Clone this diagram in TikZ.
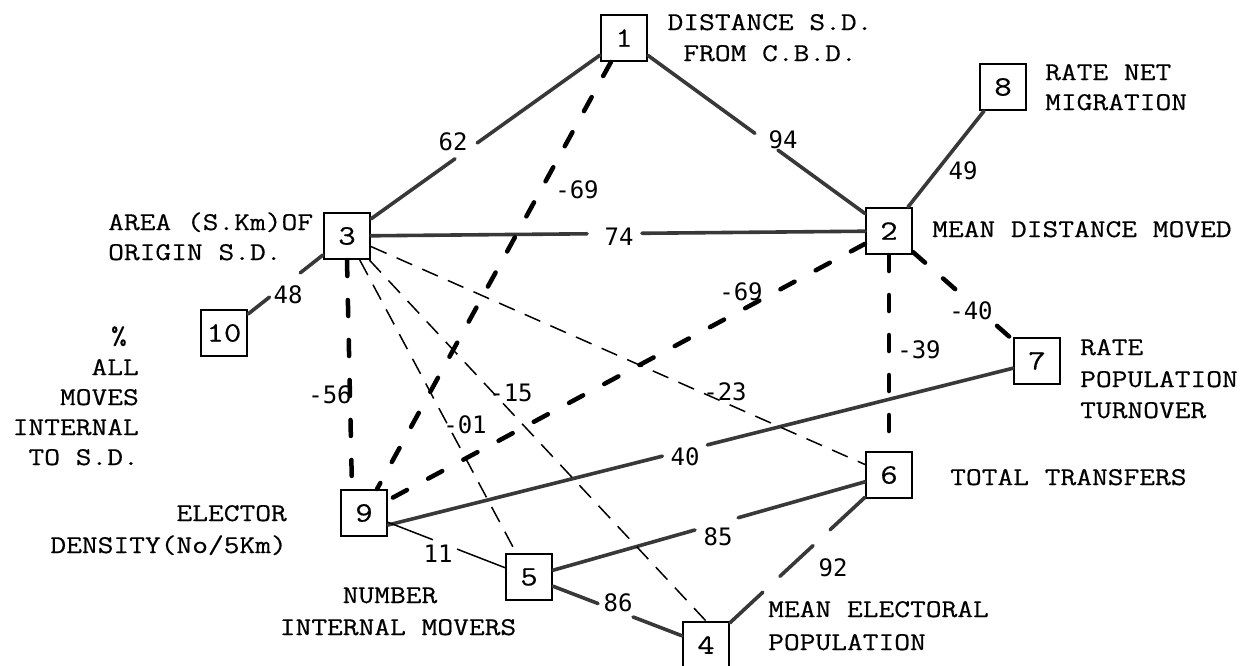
\documentclass[tikz,border=0pt]{standalone}
\usepackage{fontspec}
\usetikzlibrary{calc}
\newfontfamily\twfont{Latin Modern Mono}[FakeStretch=1.2,FakeBold=0.5]
\newfontfamily\numfont{DejaVu Sans Mono}
\begin{document}
\begin{tikzpicture}[x=1pt,y=-1pt,
  box/.style={draw,line width=2pt,minimum width=46pt,minimum height=46pt,inner sep=0pt,fill=white,font=\twfont\fontsize{28}{30}\selectfont},
  txt/.style={inner sep=0pt,font=\twfont\fontsize{25.5}{30}\selectfont},
  num/.style={inner sep=0pt,font=\numfont\fontsize{24}{28}\selectfont},
  strong/.style={line width=3.6pt,black!78,line cap=round},
  sdash/.style={line width=4.5pt,line cap=round,dash pattern=on 16pt off 24pt},
  tdash/.style={line width=1.5pt,dash pattern=on 17pt off 11pt},
  thinline/.style={line width=1.5pt}]
\useasboundingbox (0,0) rectangle (1248,665);

% boxes
\node[box] (n1) at (624,38) {1};
\node[box] (n8) at (1003,87) {8};
\node[box] (n3) at (347,236) {3};
\node[box] (n10) at (224,333) {10};
\node[box] (n2) at (889,231) {2};
\node[box] (n7) at (1037,361) {7};
\node[box] (n6) at (889,475) {6};
\node[box] (n9) at (364,513) {9};
\node[box] (n5) at (529,577) {5};
\node[box] (n4) at (706,645) {4};

\coordinate (p7) at ($(n7.north west)!0.65!(n7.south west)$);
\coordinate (p9) at ($(n9.north east)!0.75!(n9.south east)$);
\coordinate (q9) at ($(n9.north west)!0.25!(n9.north east)$);

% strong positive links
\draw[strong] (n1) -- ($(n1)!0.53!(n3)$) ($(n1)!0.61!(n3)$) -- (n3);
\draw[strong] (n1) -- ($(n1)!0.494!(n2)$) ($(n1)!0.581!(n2)$) -- (n2);
\draw[strong] (n8) -- (n2);
\draw[strong] (n3) -- ($(n3)!0.443!(n2)$) ($(n3)!0.544!(n2)$) -- (n2);
\draw[strong] (n3) -- ($(n3)!0.38!(n10)$) ($(n3)!0.63!(n10)$) -- (n10);
\draw[strong] (p7) -- ($(p7)!0.489!(p9)$) ($(p7)!0.561!(p9)$) -- (p9);
\draw[strong] (n6) -- ($(n6)!0.419!(n5)$) ($(n6)!0.539!(n5)$) -- (n5);
\draw[strong] (n6) -- ($(n6)!0.322!(n4)$) ($(n6)!0.415!(n4)$) -- ($(n6)!0.596!(n4)$) ($(n6)!0.689!(n4)$) -- (n4);
\draw[strong] (n5) -- ($(n5)!0.39!(n4)$) ($(n5)!0.588!(n4)$) -- (n4);
\draw[thinline] (n9) -- ($(n9)!0.418!(n5)$) ($(n9)!0.564!(n5)$) -- (n5);

% strong negative links
\draw[sdash] (n1) -- (n9);
\draw[sdash] (n2) -- (n9);
\draw[sdash] (n3.south) -- (q9);
\draw[sdash] (n2) -- (n6);
\draw[sdash] (n2) -- ($(n2)!0.48!(n7)$) ($(n2)!0.73!(n7)$) -- (n7);

% weak negative links
\draw[tdash] (n3) -- (n5);
\draw[tdash] (n3) -- (n4.north);
\draw[tdash] (n3) -- (n6);

% coefficient labels
\node[num] (l62) at (453,142) {62};
\node[num] (l94) at (783,140) {94};
\node[num] (l49) at (963,171) {49};
\node[num] (l74) at (619,237) {74};
\node[num] (l48) at (288,295) {48};
\node[num] (l69a) at (577,190) {-69};
\node[num] (l69b) at (741,292) {-69};
\node[num] (l56) at (330,395) {-56};
\node[num] (l39) at (919,350) {-39};
\node[num] (l40n) at (971,311) {-40};
\node[num] (l01) at (465,425) {-01};
\node[num] (l15) at (511,393) {-15};
\node[num] (l23) at (725,392) {-23};
\node[num] (l40) at (685,457) {40};
\node[num] (l85) at (718,537) {85};
\node[num] (l92) at (833,568) {92};
\node[num] (l86) at (618,603) {86};
\node[num] (l11) at (438,554) {11};

% variable names
\node[txt,anchor=base] (t1a) at (770,30) {DISTANCE S.D.};
\node[txt,anchor=base] (t1b) at (770,61) {FROM C.B.D.};
\node[txt,anchor=base west] (t8a) at (1045,80) {RATE NET};
\node[txt,anchor=base west] (t8b) at (1045,110) {MIGRATION};
\node[txt,anchor=base west] (t3a) at (108,230) {AREA (S.Km)OF};
\node[txt,anchor=base west] (t3b) at (108,260) {ORIGIN S.D.};
\node[txt,anchor=base east] (t10a) at (139,344) {\%\hbox to 12pt{}};
\node[txt,anchor=base east] (t10b) at (139,375) {ALL};
\node[txt,anchor=base east] (t10c) at (139,405) {MOVES};
\node[txt,anchor=base east] (t10d) at (139,435) {INTERNAL};
\node[txt,anchor=base east] (t10e) at (139,465) {TO S.D.};
\node[txt,anchor=base west] (t2) at (932,237) {MEAN DISTANCE MOVED};
\node[txt,anchor=base west] (t7a) at (1080,355) {RATE};
\node[txt,anchor=base west] (t7b) at (1080,387) {POPULATION};
\node[txt,anchor=base west] (t7c) at (1080,418) {TURNOVER};
\node[txt,anchor=base west] (t6) at (950,485) {TOTAL TRANSFERS};
\node[txt,anchor=base east] (t9a) at (287,521) {ELECTOR};
\node[txt,anchor=base east] (t9b) at (287,553) {DENSITY(No/5Km)};
\node[txt,anchor=base] (t5a) at (390,603) {NUMBER};
\node[txt,anchor=base] (t5b) at (398,635) {INTERNAL MOVERS};
\node[txt,anchor=base west] (t4a) at (768,617) {MEAN ELECTORAL};
\node[txt,anchor=base west] (t4b) at (768,650) {POPULATION};
\end{tikzpicture}
\end{document}
